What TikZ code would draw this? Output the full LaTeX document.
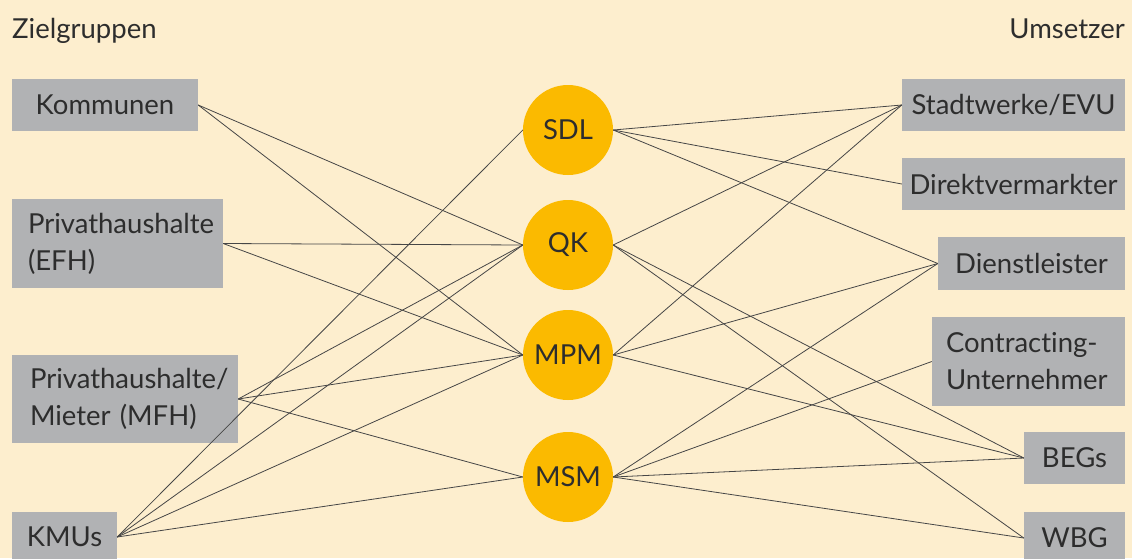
\documentclass[tikz,border=0pt]{standalone}
\usepackage{fontspec}
\setmainfont{Lato}[Ligatures={NoCommon}]
\definecolor{paper}{RGB}{253,238,206}
\definecolor{boxgray}{RGB}{177,178,180}
\definecolor{sun}{RGB}{251,186,0}
\definecolor{ink}{RGB}{45,45,45}
\definecolor{wire}{RGB}{70,70,70}
\begin{document}
\begin{tikzpicture}[x=1pt,y=-1pt,
  every node/.style={text=ink, font=\fontsize{27.5}{37}\selectfont},
  actor/.style={rectangle, fill=boxgray, inner sep=0pt},
  measure/.style={circle, fill=sun, minimum size=90pt, inner sep=0pt},
  heading/.style={inner sep=0pt},
  link/.style={draw=wire, line width=0.8pt}]
\useasboundingbox (0,0) rectangle (1132,558);
\fill[paper] (0,0) rectangle (1132,558);

% headings
\node[heading, anchor=base west] (hl) at (12,38) {Zielgruppen};
\node[heading, anchor=base east] (hr) at (1125,38) {Umsetzer};

% target groups
\node[actor, minimum width=186pt, minimum height=52pt] (kom) at (105,105) {Kommunen};
\node[actor, text width=179pt, inner xsep=16pt, minimum height=89pt, align=left] (efh) at (117.5,243.5) {Privathaushalte\\(EFH)};
\node[actor, text width=190pt, inner xsep=18pt, minimum height=88pt, align=left] (mfh) at (125,399) {Privathaushalte/\\Mieter (MFH)};
\node[actor, minimum width=105pt, minimum height=50pt] (kmu) at (64.5,537) {KMUs};

% measures
\node[measure] (sdl) at (568,130) {SDL};
\node[measure] (qk)  at (568,245) {QK};
\node[measure] (mpm) at (568,355) {MPM};
\node[measure] (msm) at (568,477) {MSM};

% implementers
\node[actor, minimum width=223pt, minimum height=52pt] (sw) at (1013.5,105) {Stadtwerke/EVU};
\node[actor, minimum width=223pt, minimum height=52pt] (dv) at (1013.5,184) {Direktvermarkter};
\node[actor, minimum width=187pt, minimum height=53pt] (dl) at (1031.5,263.5) {Dienstleister};
\node[actor, text width=165pt, inner xsep=14pt, minimum height=89pt, align=left] (cu) at (1028.5,361.5) {Contracting-\\Unternehmer};
\node[actor, minimum width=101pt, minimum height=52pt] (beg) at (1074.5,458) {BEGs};
\node[actor, minimum width=101pt, minimum height=52pt] (wbg) at (1074.5,538) {WBG};

% target groups to measures
\draw[link] (kom.east) -- (qk.west);
\draw[link] (kom.east) -- (mpm.west);
\draw[link] (efh.east) -- (qk.west);
\draw[link] (efh.east) -- (mpm.west);
\draw[link] (mfh.east) -- (qk.west);
\draw[link] (mfh.east) -- (mpm.west);
\draw[link] (mfh.east) -- (msm.west);
\draw[link] (kmu.east) -- (sdl.west);
\draw[link] (kmu.east) -- (qk.west);
\draw[link] (kmu.east) -- (mpm.west);
\draw[link] (kmu.east) -- (msm.west);

% measures to implementers
\draw[link] (sdl.east) -- (sw.west);
\draw[link] (sdl.east) -- (dv.west);
\draw[link] (sdl.east) -- (dl.west);
\draw[link] (qk.east) -- (sw.west);
\draw[link] (qk.east) -- (beg.west);
\draw[link] (qk.east) -- (wbg.west);
\draw[link] (mpm.east) -- (sw.west);
\draw[link] (mpm.east) -- (dl.west);
\draw[link] (mpm.east) -- (beg.west);
\draw[link] (msm.east) -- (dl.west);
\draw[link] (msm.east) -- (cu.west);
\draw[link] (msm.east) -- (beg.west);
\draw[link] (msm.east) -- (wbg.west);
\end{tikzpicture}
\end{document}
